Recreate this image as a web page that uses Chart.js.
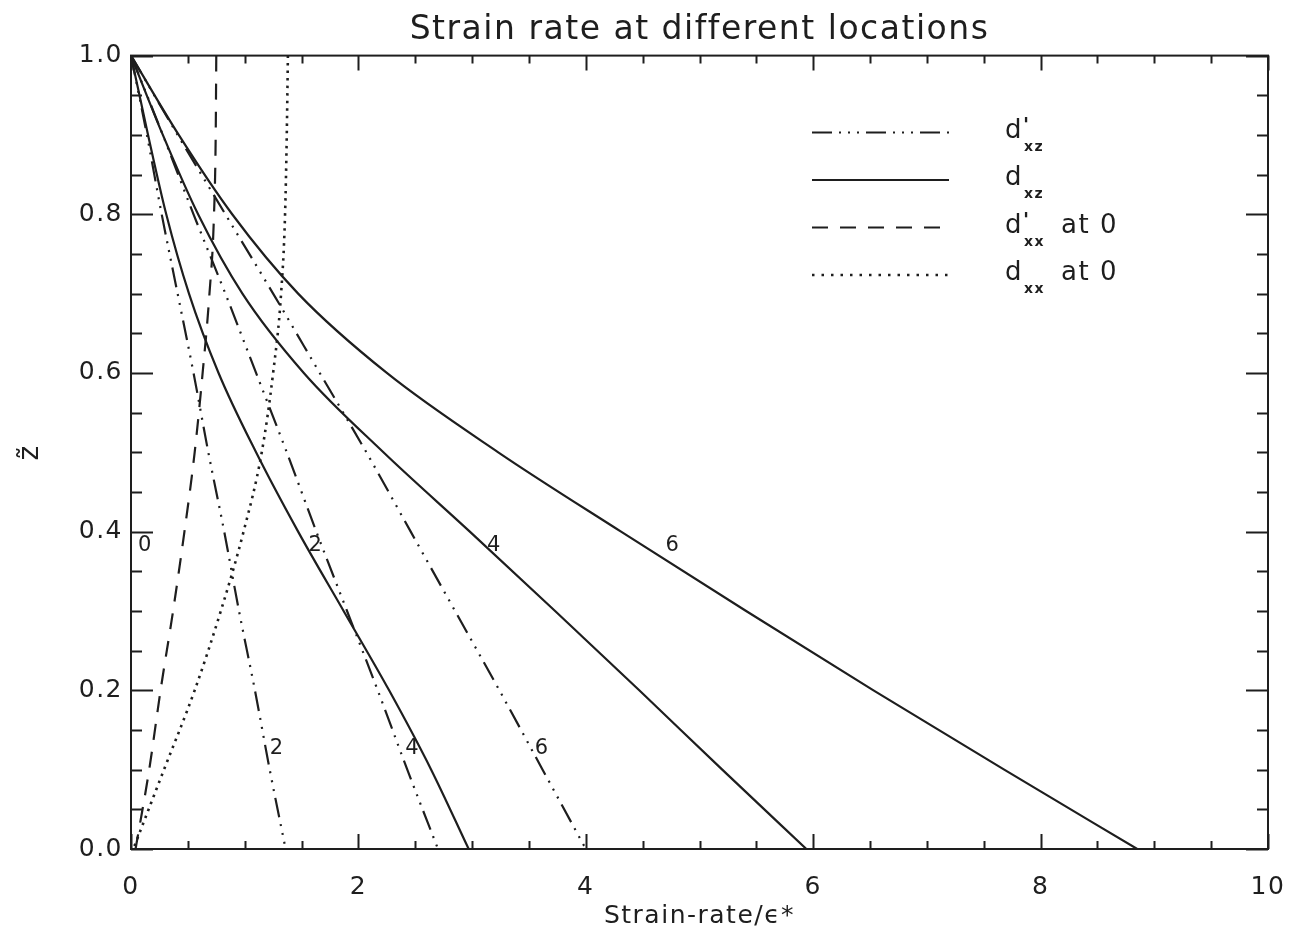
<!DOCTYPE html>
<html>
<head>
<meta charset="utf-8">
<script src="https://cdn.jsdelivr.net/npm/chart.js@4.4.1/dist/chart.umd.min.js"></script>
<style>
  html, body { margin: 0; padding: 0; background: #fff; }
  #contenedor { width: 1312px; height: 934px; }
</style>
</head>
<body>
<div id="contenedor"><canvas id="graficaStrain"></canvas></div>
<script>
// Vertical coordinate z~ shared by every curve (top to bottom)
const zVals = [1.0, 0.9, 0.8, 0.7, 0.6, 0.5, 0.4, 0.3, 0.2, 0.1, 0.0];

// d_xz at locations 2, 4, 6 (solid)
const dxz2 = [0, 0.15, 0.31, 0.51, 0.77, 1.10, 1.47, 1.87, 2.27, 2.64, 2.97];
const dxz4 = [0, 0.28, 0.59, 0.98, 1.52, 2.22, 2.98, 3.73, 4.47, 5.20, 5.94];
const dxz6 = [0, 0.42, 0.89, 1.47, 2.25, 3.23, 4.31, 5.41, 6.53, 7.68, 8.85];

// d'_xz at locations 2, 4, 6 (dash-dot-dot-dot)
const dpxz2 = [0, 0.14, 0.27, 0.41, 0.55, 0.68, 0.82, 0.95, 1.09, 1.22, 1.36];
const dpxz4 = [0, 0.28, 0.55, 0.83, 1.10, 1.37, 1.63, 1.90, 2.17, 2.43, 2.70];
const dpxz6 = [0, 0.41, 0.83, 1.25, 1.66, 2.07, 2.46, 2.85, 3.24, 3.62, 4.00];

// d'_xx at 0 (dashed) and d_xx at 0 (dotted)
const dpxx0 = [0.75, 0.745, 0.73, 0.69, 0.63, 0.56, 0.47, 0.37, 0.26, 0.16, 0.04];
const dxx0  = [1.38, 1.37, 1.355, 1.32, 1.25, 1.15, 0.99, 0.79, 0.56, 0.29, 0.02];

// Tick labels
const xTickVals = [0, 2, 4, 6, 8, 10];
const yTickVals = [0.0, 0.2, 0.4, 0.6, 0.8, 1.0];

// Location numbers written on the curves
const curveLabels = ['0', '2', '4', '6', '2', '4', '6'];
const curveLabelX = [0.12, 1.62, 3.19, 4.76, 1.28, 2.47, 3.61];
const curveLabelZ = [0.383, 0.383, 0.383, 0.383, 0.127, 0.127, 0.127];

// Legend entries: letter, prime?, subscript, trailing text
const legendLetter = ['d', 'd', 'd', 'd'];
const legendPrime  = [true, false, true, false];
const legendSub    = ['xz', 'xz', 'xx', 'xx'];
const legendTail   = ['', '', 'at 0', 'at 0'];

const INK = '#1e1e1e';
const FUENTE = "'DejaVu Sans', sans-serif";
const DASH_DOT = [20, 7, 2, 7, 2, 7, 2, 7];
const DASHED = [16, 12];
const DOTTED = [2.5, 5];

function puntos(xs) {
    return zVals.map((z, i) => ({ x: xs[i], y: z }));
}

function serie(label, xs, dash, grosor) {
    return {
        label: label,
        data: puntos(xs),
        borderColor: INK,
        borderWidth: grosor || 2.2,
        borderDash: dash,
        pointRadius: 0,
        showLine: true,
        cubicInterpolationMode: 'monotone',
        fill: false
    };
}

// wider letter spacing, like the plotter font of the original
const espaciado = {
    id: 'espaciado',
    beforeDraw(chart) { chart.ctx.letterSpacing = '1.5px'; }
};

// Inner ticks on all four sides, frame, curve numbers and legend
const decoracion = {
    id: 'decoracion',
    afterDraw(chart) {
        const ctx = chart.ctx;
        const a = chart.chartArea;
        const sx = chart.scales.x, sy = chart.scales.y;
        ctx.save();
        ctx.strokeStyle = INK;
        ctx.lineWidth = 2;
        ctx.setLineDash([]);
        ctx.strokeRect(a.left, a.top, a.right - a.left, a.bottom - a.top);

        ctx.beginPath();
        for (let k = 0; k <= 20; k++) {
            const v = k * 0.5;
            const px = Math.round(sx.getPixelForValue(v)) + 0.5;
            const len = (k % 4 === 0) ? 15 : 8;
            ctx.moveTo(px, a.bottom); ctx.lineTo(px, a.bottom - len);
            ctx.moveTo(px, a.top); ctx.lineTo(px, a.top + len);
        }
        for (let k = 0; k <= 20; k++) {
            const v = k * 0.05;
            const py = Math.round(sy.getPixelForValue(v)) + 0.5;
            const len = (k % 4 === 0) ? 22 : 11;
            ctx.moveTo(a.left, py); ctx.lineTo(a.left + len, py);
            ctx.moveTo(a.right, py); ctx.lineTo(a.right - len, py);
        }
        ctx.stroke();

        // numbers on the curves
        ctx.fillStyle = INK;
        ctx.letterSpacing = '0px';
        ctx.font = '21px ' + FUENTE;
        ctx.textAlign = 'center';
        ctx.textBaseline = 'middle';
        curveLabels.forEach((t, i) => {
            ctx.fillText(t, sx.getPixelForValue(curveLabelX[i]), sy.getPixelForValue(curveLabelZ[i]));
        });

        // legend
        const estilos = [DASH_DOT, [], DASHED, [2.5, 7]];
        const x0 = a.left + 681, x1 = a.left + 818;
        const tx = a.left + 874;
        ctx.letterSpacing = '1.5px';
        legendLetter.forEach((letra, i) => {
            const yLinea = a.top + 77 + i * 47.5;
            ctx.setLineDash(estilos[i]);
            ctx.lineWidth = i === 3 ? 2.5 : 2;
            ctx.beginPath();
            ctx.moveTo(x0, yLinea); ctx.lineTo(x1, yLinea);
            ctx.stroke();

            const base = yLinea + 5;
            ctx.textAlign = 'left';
            ctx.textBaseline = 'alphabetic';
            ctx.font = '26px ' + FUENTE;
            ctx.fillText(letra, tx, base);
            const w = ctx.measureText(letra).width;
            if (legendPrime[i]) {
                ctx.font = 'bold 20px ' + FUENTE;
                ctx.fillText("'", tx + w, base - 7);
            }
            ctx.font = 'bold 14px ' + FUENTE;
            ctx.fillText(legendSub[i], tx + w + 1, base + 13);
            if (legendTail[i]) {
                ctx.font = '26px ' + FUENTE;
                ctx.fillText(legendTail[i], tx + w + 38, base);
            }
        });
        ctx.restore();
    }
};

document.addEventListener('DOMContentLoaded', function() {
    const ctxStrain = document.getElementById('graficaStrain');

    new Chart(ctxStrain, {
        type: 'scatter',
        data: {
            datasets: [
                serie("d'xz 2", dpxz2, DASH_DOT),
                serie("d'xz 4", dpxz4, DASH_DOT),
                serie("d'xz 6", dpxz6, DASH_DOT),
                serie('dxz 2', dxz2, []),
                serie('dxz 4', dxz4, []),
                serie('dxz 6', dxz6, []),
                serie("d'xx at 0", dpxx0, DASHED),
                serie('dxx at 0', dxx0, DOTTED, 2.6)
            ]
        },
        options: {
            responsive: true,
            maintainAspectRatio: false,
            animation: false,
            layout: { padding: { left: 0, right: 44, top: 0, bottom: 0 } },
            plugins: {
                legend: { display: false },
                tooltip: { enabled: false },
                title: {
                    display: true,
                    fullSize: false,
                    text: 'Strain rate at different locations',
                    color: INK,
                    font: { family: FUENTE, size: 33, weight: 'normal' },
                    padding: { top: 11, bottom: 5 }
                }
            },
            scales: {
                x: {
                    type: 'linear',
                    position: 'bottom',
                    min: 0,
                    max: 10,
                    afterBuildTicks: s => { s.ticks = xTickVals.map(v => ({ value: v })); },
                    afterFit: s => { s.height = 85; },
                    grid: { display: false, drawTicks: false },
                    border: { display: false },
                    ticks: {
                        color: INK,
                        padding: 23,
                        maxRotation: 0,
                        font: { family: FUENTE, size: 25 },
                        callback: v => String(v)
                    },
                    title: {
                        display: true,
                        text: 'Strain-rate/ϵ*',
                        color: INK,
                        font: { family: FUENTE, size: 25 },
                        padding: { top: 0, bottom: 3 }
                    }
                },
                y: {
                    type: 'linear',
                    min: 0,
                    max: 1,
                    afterBuildTicks: s => { s.ticks = yTickVals.map(v => ({ value: v })); },
                    afterFit: s => { s.width = 131; },
                    grid: { display: false, drawTicks: false },
                    border: { display: false },
                    ticks: {
                        color: INK,
                        padding: 8,
                        font: { family: FUENTE, size: 25 },
                        callback: v => Number(v).toFixed(1)
                    },
                    title: {
                        display: true,
                        text: 'z̃',
                        color: INK,
                        font: { family: FUENTE, size: 28 },
                        padding: { top: 14, bottom: 0 }
                    }
                }
            }
        },
        plugins: [espaciado, decoracion]
    });
});
</script>
</body>
</html>
